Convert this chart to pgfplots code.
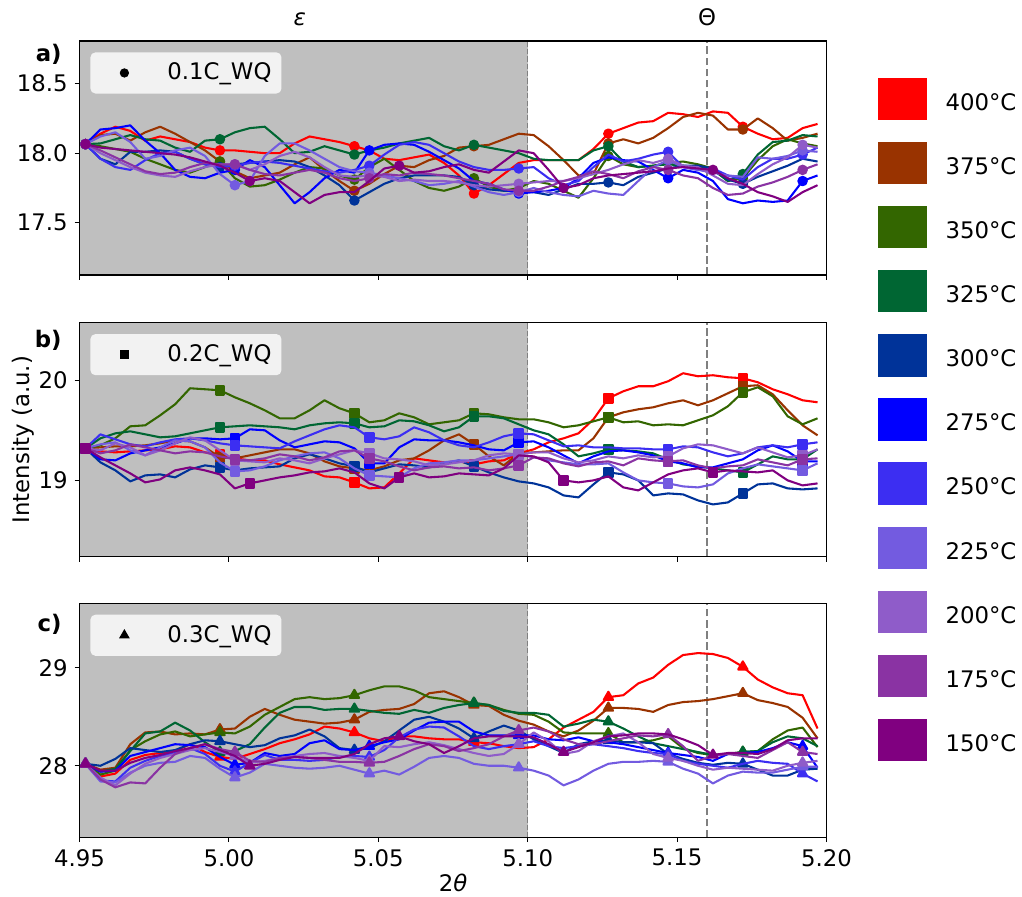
\documentclass[border=0pt]{standalone}
\usepackage{pgfplots}
\usepackage{pgfplotstable}
\pgfplotsset{compat=1.18}
\usepackage{fontspec}
\setmainfont{DejaVu Sans}
\newcommand\fs{\fontsize{11.4pt}{13.7pt}\selectfont}
\definecolor{c400}{HTML}{FF0000}
\definecolor{c375}{HTML}{993300}
\definecolor{c350}{HTML}{336600}
\definecolor{c325}{HTML}{006633}
\definecolor{c300}{HTML}{003399}
\definecolor{c275}{HTML}{0000FF}
\definecolor{c250}{HTML}{3C2EF2}
\definecolor{c225}{HTML}{735BE0}
\definecolor{c200}{HTML}{8F5CC9}
\definecolor{c175}{HTML}{8A33A3}
\definecolor{c150}{HTML}{800080}
\definecolor{bandgray}{HTML}{BFBFBF}
\definecolor{legbg}{HTML}{F2F2F2}

\pgfplotstableread{
x r br ol dg db b v250 v225 v200 v175 v150
4.952 18.065 18.065 18.065 18.065 18.065 18.065 18.065 18.065 18.065 18.065 18.065
4.957 18.14 18.13 18.05 18.07 17.96 18.17 17.96 18.12 18.00 18.02 18.04
4.962 18.19 18.14 18.03 18.10 17.92 18.18 17.90 18.15 17.95 17.97 18.03
4.967 18.16 18.09 18.01 18.13 18.01 18.20 17.88 18.08 17.90 17.92 18.02
4.972 18.09 18.15 17.96 18.10 18.01 18.09 17.95 17.96 17.86 17.87 18.01
4.977 18.12 18.19 17.92 18.09 18.02 18.00 18.00 17.98 17.84 17.85 18.00
4.982 18.10 18.14 17.88 18.04 18.01 17.88 18.01 18.02 17.83 17.86 17.99
4.987 18.08 18.08 17.86 18.01 17.96 17.83 17.96 18.04 17.87 17.90 17.97
4.992 18.04 18.02 17.90 18.09 17.92 17.82 17.92 17.98 17.90 17.93 17.94
4.997 18.02 17.94 17.94 18.10 17.90 17.86 17.90 17.85 17.92 17.92 17.91
5.002 18.02 17.87 17.82 18.15 17.92 17.88 17.91 17.77 17.92 17.92 17.86
5.007 18.01 17.82 17.76 18.18 17.93 17.95 17.93 17.80 17.88 17.88 17.80
5.012 18.00 17.84 17.77 18.19 17.94 17.90 17.94 17.98 17.92 17.85 17.82
5.017 18.00 17.86 17.81 18.10 17.95 17.77 17.93 18.07 17.98 17.84 17.80
5.022 18.07 17.92 17.86 18.00 17.94 17.64 17.91 18.07 18.01 17.86 17.72
5.027 18.12 17.97 17.90 18.01 17.90 17.72 17.89 18.02 17.97 17.88 17.64
5.032 18.10 17.88 17.89 18.05 17.84 17.82 17.87 17.96 17.90 17.86 17.70
5.037 18.08 17.80 17.84 18.02 17.77 17.88 17.86 17.90 17.84 17.82 17.72
5.042 18.05 17.73 17.81 17.99 17.66 17.86 17.88 17.87 17.83 17.80 17.72
5.047 18.02 17.78 17.90 18.02 17.72 18.02 17.91 17.86 17.84 17.82 17.80
5.052 17.96 17.85 17.96 18.04 17.78 18.06 17.99 17.84 17.83 17.85 17.89
5.057 17.95 17.91 17.88 18.07 17.82 18.07 18.06 17.82 17.80 17.84 17.91
5.062 17.97 17.90 17.80 18.09 17.84 18.06 18.08 17.80 17.81 17.86 17.86
5.067 17.99 17.95 17.75 18.11 17.84 18.01 18.06 17.77 17.80 17.85 17.87
5.072 17.93 17.98 17.73 18.05 17.84 17.95 18.00 17.78 17.80 17.84 17.90
5.077 17.84 18.04 17.76 18.02 17.83 17.89 17.94 17.80 17.79 17.82 17.92
5.082 17.71 18.05 17.82 18.06 17.77 17.80 17.90 17.76 17.77 17.80 17.88
5.087 17.77 18.06 17.76 18.04 17.74 17.78 17.88 17.72 17.76 17.78 17.86
5.092 17.85 18.10 17.73 18.02 17.73 17.74 17.88 17.70 17.77 17.74 17.94
5.097 17.93 18.14 17.75 18.00 17.73 17.71 17.89 17.72 17.78 17.73 18.02
5.102 17.95 18.13 17.80 17.96 17.72 17.72 17.90 17.75 17.79 17.73 18.00
5.107 17.95 18.05 17.78 17.95 17.70 17.73 17.82 17.72 17.80 17.76 17.88
5.112 17.95 17.95 17.73 17.95 17.74 17.75 17.77 17.70 17.80 17.80 17.75
5.117 17.95 17.84 17.68 17.95 17.78 17.82 17.80 17.69 17.82 17.83 17.77
5.122 18.03 17.85 17.82 18.02 17.78 17.93 17.90 17.73 17.85 17.87 17.82
5.127 18.14 18.07 17.98 18.05 17.79 17.97 17.99 17.71 17.88 17.85 17.84
5.132 18.18 18.10 17.92 17.94 17.77 17.95 17.94 17.70 17.92 17.82 17.85
5.137 18.22 18.07 17.90 17.90 17.83 17.94 17.96 17.80 17.95 17.87 17.86
5.142 18.23 18.11 17.91 17.91 17.86 17.88 17.99 17.90 17.93 17.90 17.87
5.147 18.29 18.18 17.93 17.92 17.89 17.82 18.01 17.95 17.96 17.88 17.89
5.152 18.28 18.26 17.94 17.91 17.91 17.88 17.90 17.90 17.91 17.84 17.90
5.157 18.26 18.29 17.92 17.90 17.91 17.86 17.88 17.88 17.90 17.82 17.89
5.162 18.30 18.27 17.89 17.88 17.89 17.80 17.89 17.86 17.84 17.75 17.88
5.167 18.29 18.17 17.80 17.80 17.81 17.67 17.84 17.84 17.78 17.70 17.82
5.172 18.19 18.17 17.82 17.85 17.78 17.64 17.81 17.83 17.77 17.71 17.78
5.177 18.14 18.25 17.95 17.99 17.83 17.66 17.90 17.97 17.85 17.76 17.72
5.182 18.10 18.18 18.05 18.08 17.87 17.65 17.96 17.96 17.92 17.79 17.69
5.187 18.11 18.09 18.10 18.09 17.91 17.66 17.96 17.98 17.97 17.83 17.65
5.192 18.18 18.11 18.07 18.13 17.96 17.80 17.99 18.02 18.06 17.88 17.72
5.197 18.21 18.14 18.05 18.12 17.94 17.84 18.04 18.01 18.04 17.92 17.77
}\tA

\pgfplotstableread{
x r br ol dg db b v250 v225 v200 v175 v150
4.952 19.32 19.32 19.32 19.32 19.32 19.32 19.32 19.32 19.32 19.32 19.32
4.957 19.29 19.33 19.35 19.42 19.18 19.21 19.46 19.36 19.30 19.27 19.23
4.962 19.28 19.34 19.42 19.47 19.10 19.20 19.41 19.38 19.37 19.30 19.15
4.967 19.29 19.34 19.54 19.49 18.99 19.27 19.36 19.30 19.33 19.36 19.07
4.972 19.30 19.35 19.55 19.46 19.05 19.30 19.34 19.25 19.25 19.33 18.98
4.977 19.31 19.37 19.65 19.43 19.06 19.33 19.38 19.33 19.30 19.30 19.01
4.982 19.34 19.40 19.76 19.44 19.03 19.37 19.41 19.40 19.37 19.27 19.10
4.987 19.33 19.39 19.92 19.47 19.11 19.42 19.42 19.39 19.43 19.29 19.13
4.992 19.28 19.33 19.91 19.50 19.15 19.42 19.40 19.33 19.40 19.28 19.10
4.997 19.26 19.23 19.90 19.53 19.13 19.41 19.37 19.18 19.30 19.24 19.06
5.002 19.22 19.22 19.83 19.54 19.10 19.42 19.35 19.09 19.20 19.21 18.92
5.007 19.20 19.25 19.77 19.55 19.12 19.51 19.34 19.10 19.19 19.20 18.97
5.012 19.20 19.28 19.70 19.54 19.13 19.50 19.33 19.14 19.18 19.22 19.00
5.017 19.16 19.31 19.62 19.53 19.14 19.40 19.32 19.20 19.22 19.26 19.03
5.022 19.13 19.31 19.62 19.51 19.22 19.33 19.39 19.24 19.20 19.24 19.05
5.027 19.10 19.27 19.70 19.55 19.26 19.36 19.45 19.27 19.17 19.20 19.08
5.032 19.04 19.19 19.80 19.57 19.22 19.39 19.51 19.28 19.22 19.23 19.09
5.037 19.03 19.14 19.72 19.58 19.17 19.38 19.55 19.22 19.26 19.29 19.12
5.042 18.98 19.12 19.67 19.57 19.14 19.32 19.53 19.12 19.30 19.30 19.08
5.047 18.92 19.10 19.58 19.53 19.08 19.17 19.43 19.05 19.27 19.22 18.97
5.052 18.93 19.14 19.60 19.54 19.12 19.17 19.41 19.04 19.22 19.19 18.92
5.057 19.07 19.20 19.67 19.60 19.16 19.33 19.44 19.03 19.21 19.14 19.03
5.062 19.22 19.22 19.63 19.59 19.15 19.41 19.53 19.12 19.19 19.10 19.07
5.067 19.20 19.30 19.56 19.55 19.13 19.40 19.48 19.17 19.15 19.13 19.03
5.072 19.18 19.40 19.58 19.49 19.17 19.40 19.40 19.18 19.16 19.14 19.04
5.077 19.19 19.46 19.60 19.53 19.20 19.38 19.35 19.20 19.18 19.12 19.07
5.082 19.16 19.36 19.67 19.64 19.14 19.35 19.33 19.20 19.20 19.13 19.06
5.087 19.19 19.24 19.66 19.64 19.08 19.31 19.38 19.22 19.25 19.10 19.05
5.092 19.20 19.15 19.63 19.62 19.03 19.30 19.44 19.24 19.27 19.12 19.12
5.097 19.27 19.27 19.61 19.56 18.99 19.38 19.47 19.26 19.26 19.15 19.25
5.102 19.31 19.28 19.61 19.50 18.97 19.39 19.46 19.23 19.28 19.23 19.24
5.107 19.38 19.29 19.58 19.46 18.93 19.33 19.40 19.20 19.28 19.22 19.18
5.112 19.42 19.30 19.53 19.36 18.85 19.25 19.34 19.18 19.22 19.17 19.00
5.117 19.47 19.30 19.55 19.24 18.83 19.17 19.35 19.16 19.18 19.14 18.98
5.122 19.61 19.42 19.59 19.27 18.96 19.24 19.33 19.16 19.20 19.18 19.00
5.127 19.82 19.63 19.63 19.31 19.08 19.29 19.33 19.17 19.24 19.19 19.04
5.132 19.89 19.68 19.58 19.30 19.06 19.30 19.32 19.08 19.22 19.15 18.93
5.137 19.94 19.71 19.59 19.29 19.00 19.28 19.32 19.00 19.25 19.22 18.90
5.142 19.94 19.73 19.55 19.27 18.85 19.25 19.31 18.98 19.23 19.20 18.98
5.147 19.99 19.77 19.56 19.21 18.87 19.19 19.31 18.97 19.24 19.19 19.06
5.152 20.07 19.80 19.55 19.16 18.86 19.17 19.34 18.94 19.32 19.20 19.10
5.157 20.04 19.75 19.60 19.14 18.80 19.13 19.33 18.93 19.36 19.15 19.12
5.162 20.05 19.80 19.65 19.12 18.76 19.13 19.28 18.96 19.35 19.12 19.08
5.167 20.03 19.87 19.74 19.10 18.78 19.17 19.24 19.07 19.31 19.14 19.10
5.172 20.02 19.94 19.88 19.08 18.87 19.21 19.27 19.12 19.27 19.15 19.09
5.177 19.98 19.95 19.93 19.16 18.96 19.30 19.33 19.16 19.33 19.21 19.08
5.182 19.91 19.86 19.84 19.24 18.97 19.35 19.35 19.14 19.28 19.18 19.10
5.187 19.86 19.70 19.64 19.21 18.92 19.29 19.33 19.12 19.23 19.15 19.00
5.192 19.80 19.55 19.56 19.21 18.91 19.19 19.36 19.10 19.25 19.21 18.95
5.197 19.78 19.45 19.62 19.31 18.92 19.19 19.38 19.17 19.31 19.22 18.97
}\tB

\pgfplotstableread{
x r br ol dg db b v250 v225 v200 v175 v150
4.952 28.02 28.02 28.02 28.02 28.02 28.02 28.02 28.02 28.02 28.02 28.02
4.957 27.89 27.96 27.91 27.94 28.00 27.94 27.85 27.84 27.88 27.86 27.95
4.962 27.92 27.98 27.95 27.97 28.07 27.95 27.84 27.83 27.80 27.78 27.95
4.967 28.06 28.22 28.16 28.15 28.18 28.10 27.98 27.93 27.92 27.83 28.03
4.972 28.11 28.34 28.25 28.33 28.16 28.14 28.05 28.00 28.02 27.82 28.08
4.977 28.13 28.35 28.32 28.35 28.14 28.18 28.10 28.03 28.08 27.98 28.11
4.982 28.15 28.32 28.35 28.44 28.16 28.22 28.13 28.04 28.12 28.12 28.15
4.987 28.22 28.33 28.30 28.36 28.22 28.21 28.18 28.10 28.16 28.18 28.18
4.992 28.14 28.32 28.32 28.24 28.26 28.19 28.12 28.08 28.18 28.22 28.22
4.997 28.09 28.37 28.34 28.14 28.25 28.09 28.00 27.97 28.14 28.17 28.16
5.002 28.07 28.38 28.33 28.15 28.22 28.01 27.94 27.88 28.10 28.14 28.10
5.007 28.12 28.50 28.40 28.22 28.19 28.03 28.03 27.93 28.03 28.05 28.00
5.012 28.17 28.58 28.52 28.39 28.21 28.13 28.11 28.02 28.05 28.04 28.02
5.017 28.23 28.52 28.60 28.54 28.28 28.10 28.06 28.00 28.08 28.08 28.06
5.022 28.27 28.47 28.68 28.60 28.31 28.12 28.06 27.98 28.10 28.09 28.09
5.027 28.32 28.45 28.70 28.60 28.37 28.23 28.05 27.97 28.12 28.08 28.08
5.032 28.40 28.43 28.68 28.57 28.30 28.26 28.06 27.98 28.13 28.06 28.08
5.037 28.38 28.44 28.69 28.58 28.18 28.17 28.09 28.00 28.10 28.04 28.08
5.042 28.34 28.47 28.72 28.58 28.16 28.16 28.10 27.96 28.08 28.04 28.12
5.047 28.28 28.55 28.77 28.56 28.18 28.20 28.09 27.92 28.05 28.03 28.22
5.052 28.25 28.57 28.81 28.54 28.25 28.24 28.16 27.95 28.20 28.04 28.28
5.057 28.30 28.58 28.81 28.53 28.36 28.27 28.29 27.91 28.19 28.10 28.30
5.062 28.30 28.63 28.77 28.57 28.47 28.36 28.37 27.99 28.22 28.17 28.25
5.067 28.28 28.74 28.70 28.54 28.50 28.44 28.40 28.08 28.24 28.22 28.22
5.072 28.27 28.76 28.68 28.59 28.45 28.45 28.39 28.10 28.21 28.20 28.13
5.077 28.27 28.70 28.66 28.62 28.38 28.45 28.30 28.08 28.17 28.15 28.20
5.082 28.24 28.62 28.64 28.64 28.28 28.35 28.20 28.02 28.13 28.18 28.28
5.087 28.23 28.61 28.62 28.62 28.35 28.31 28.17 28.00 28.10 28.22 28.30
5.092 28.20 28.52 28.57 28.56 28.41 28.31 28.20 28.00 28.12 28.30 28.30
5.097 28.18 28.46 28.53 28.54 28.36 28.31 28.22 27.98 28.22 28.36 28.30
5.102 28.19 28.42 28.52 28.54 28.27 28.31 28.25 27.95 28.34 28.39 28.29
5.107 28.27 28.35 28.45 28.52 28.20 28.27 28.20 27.90 28.25 28.35 28.22
5.112 28.39 28.30 28.34 28.40 28.13 28.26 28.18 27.80 28.12 28.27 28.14
5.117 28.47 28.36 28.33 28.43 28.22 28.29 28.20 27.86 28.15 28.22 28.19
5.122 28.55 28.46 28.33 28.47 28.25 28.25 28.22 27.95 28.25 28.22 28.24
5.127 28.70 28.59 28.33 28.45 28.26 28.24 28.20 28.02 28.30 28.25 28.30
5.132 28.72 28.59 28.24 28.38 28.24 28.22 28.18 28.04 28.33 28.28 28.31
5.137 28.84 28.58 28.24 28.30 28.24 28.19 28.15 28.04 28.24 28.31 28.33
5.142 28.90 28.55 28.26 28.23 28.23 28.16 28.13 28.05 28.12 28.30 28.33
5.147 29.03 28.62 28.30 28.20 28.12 28.13 28.12 28.04 28.08 28.32 28.32
5.152 29.13 28.65 28.18 28.17 28.07 28.11 28.05 27.97 28.05 28.20 28.27
5.157 29.15 28.66 28.13 28.14 28.03 28.09 28.02 27.92 28.00 28.05 28.21
5.162 29.14 28.68 28.11 28.11 28.01 28.05 28.00 27.82 27.96 28.10 28.11
5.167 29.10 28.71 28.12 28.12 28.03 28.12 27.98 27.90 27.98 28.12 28.13
5.172 29.01 28.74 28.14 28.14 28.02 28.13 28.02 27.94 27.97 28.10 28.13
5.177 28.88 28.67 28.15 28.15 27.96 28.14 28.05 27.93 27.96 28.08 28.12
5.182 28.80 28.64 28.27 28.24 27.90 28.18 28.03 27.93 27.95 28.16 28.17
5.187 28.74 28.60 28.36 28.30 27.90 28.24 28.02 27.96 28.00 28.24 28.26
5.192 28.72 28.49 28.39 28.28 27.96 28.20 27.92 27.99 28.03 28.14 28.28
5.197 28.38 28.28 28.19 28.20 27.97 27.98 27.84 27.99 28.05 28.12 28.28
}\tC

\pgfplotsset{
  ser/.style={line width=1.04pt, line join=round, forget plot, mark options={solid}},
  panel/.style={scale only axis, width=373.5pt, height=117pt, xmin=4.95, xmax=5.20,
    axis on top, clip mode=individual, axis line style={line width=0.56pt, black},
    every tick/.style={line width=0.56pt, black},
    tick align=outside, major tick length=2.43pt, tick pos=left,
    xtick={4.95,5.00,5.05,5.10,5.15,5.20}, scaled x ticks=false,
    /pgf/number format/assume math mode=true, legend cell align=left,
    legend style={at={(0,1)}, anchor=north west, xshift=5.25pt, yshift=-5.5pt,
      fill=legbg, draw=none, rounded corners=2.5pt, inner xsep=5pt, inner ysep=5.3pt,
      nodes={inner sep=0pt}, column sep=4.5pt}},
}

\newcommand\allseries[3]{%
\addplot[c400,ser,mark=#2,mark size=#3,mark indices={1,10,19,27,36,45}] table[x=x,y=r]{#1};
\addplot[c375,ser,mark=#2,mark size=#3,mark indices={1,10,19,27,36,45}] table[x=x,y=br]{#1};
\addplot[c350,ser,mark=#2,mark size=#3,mark indices={1,10,19,27,36,45}] table[x=x,y=ol]{#1};
\addplot[c325,ser,mark=#2,mark size=#3,mark indices={1,10,19,27,36,45}] table[x=x,y=dg]{#1};
\addplot[c300,ser,mark=#2,mark size=#3,mark indices={1,10,19,27,36,45}] table[x=x,y=db]{#1};
\addplot[c275,ser,mark=#2,mark size=#3,mark indices={1,11,20,30,40,49}] table[x=x,y=b]{#1};
\addplot[c250,ser,mark=#2,mark size=#3,mark indices={1,11,20,30,40,49}] table[x=x,y=v250]{#1};
\addplot[c225,ser,mark=#2,mark size=#3,mark indices={1,11,20,30,40,49}] table[x=x,y=v225]{#1};
\addplot[c200,ser,mark=#2,mark size=#3,mark indices={1,11,20,30,40,49}] table[x=x,y=v200]{#1};
\addplot[c175,ser,mark=#2,mark size=#3,mark indices={1,11,20,30,40,49}] table[x=x,y=v175]{#1};
\addplot[c150,ser,mark=#2,mark size=#3,mark indices={1,12,22,33,43}] table[x=x,y=v150]{#1};
}

\newcommand\decor[2]{%
\addplot[fill=bandgray, draw=none, forget plot] coordinates {(4.95,#1) (4.95,#2) (5.10,#2) (5.10,#1)};
\addplot[gray, line width=0.69pt, dash pattern=on 2.57pt off 1.11pt, forget plot] coordinates {(5.10,#1) (5.10,#2)};
\addplot[gray, line width=1.04pt, dash pattern=on 3.85pt off 1.67pt, forget plot] coordinates {(5.16,#1) (5.16,#2)};
}

\begin{document}
\begin{tikzpicture}[font=\fs]
\path[use as bounding box] (0pt,0pt) rectangle (511pt,448.5pt);

% panel a
\begin{axis}[panel, at={(39.75pt,311pt)}, anchor=south west,
  ymin=17.125, ymax=18.806, ytick={17.5,18,18.5},
  yticklabel style={/pgf/number format/.cd, fixed, fixed zerofill, precision=1},
  xticklabels={},
  legend image code/.code={\path[draw=none,fill=none] (0pt,-3pt) rectangle (29pt,3pt); \draw[#1] plot coordinates {(12pt,0pt)};}]
\addlegendimage{black, only marks, mark=*, mark size=2.1pt}
\addlegendentry{0.1C\_WQ}
\decor{17.125}{18.806}
\allseries{\tA}{*}{2.1pt}
\node[anchor=east, inner sep=0pt, font=\fs\bfseries] at (axis description cs:-0.0234,0.942) {a)};
\node[anchor=base, yshift=7.6pt] at (axis description cs:0.295,1) {\itshape ε};
\node[anchor=base, yshift=7.6pt] at (axis description cs:0.840,1) {Θ};
\end{axis}

% panel b
\begin{axis}[panel, at={(39.75pt,170.15pt)}, anchor=south west,
  ymin=18.238, ymax=20.575, ytick={19,20},
  xticklabels={},
  ylabel={Intensity (a.u.)}, ylabel style={at={(axis description cs:-0.0669,0.5)}, anchor=base},
  legend image code/.code={\path[draw=none,fill=none] (0pt,-3pt) rectangle (29pt,3pt); \draw[#1] plot coordinates {(12pt,0pt)};}]
\addlegendimage{black, only marks, mark=square*, mark size=2.1pt}
\addlegendentry{0.2C\_WQ}
\decor{18.238}{20.575}
\allseries{\tB}{square*}{2.1pt}
\node[anchor=east, inner sep=0pt, font=\fs\bfseries] at (axis description cs:-0.0234,0.9245) {b)};
\end{axis}

% panel c
\begin{axis}[panel, at={(39.75pt,29.85pt)}, anchor=south west,
  ymin=27.270, ymax=29.658, ytick={28,29},
  xticklabel style={/pgf/number format/.cd, fixed, fixed zerofill, precision=2},
  xlabel={2{\itshape θ}}, xlabel style={at={(axis description cs:0.5,0)}, anchor=base, yshift=-27.35pt},
  legend image code/.code={\path[draw=none,fill=none] (0pt,-3pt) rectangle (29pt,3pt); \draw[#1] plot coordinates {(12pt,0pt)};}]
\addlegendimage{black, only marks, mark=triangle*, mark size=2.7pt}
\addlegendentry{0.3C\_WQ}
\decor{27.270}{29.658}
\allseries{\tC}{triangle*}{2.7pt}
\node[anchor=east, inner sep=0pt, font=\fs\bfseries] at (axis description cs:-0.0234,0.91) {c)};
\end{axis}

% figure legend
\begin{axis}[at={(0pt,0pt)}, anchor=south west, scale only axis, width=511pt, height=448.5pt,
  hide axis, xmin=0, xmax=1, ymin=0, ymax=1, legend cell align=left,
  legend style={at={(axis description cs:0.8584,0.9138)}, anchor=north west, draw=none, fill=none,
    inner sep=0pt, row sep=11pt, column sep=9.15pt, nodes={inner sep=0pt}},
  legend image code/.code={\fill[#1] (0pt,-8.08pt) rectangle (24.35pt,12.58pt);}]
\addlegendimage{c400}\addlegendentry{400°C}
\addlegendimage{c375}\addlegendentry{375°C}
\addlegendimage{c350}\addlegendentry{350°C}
\addlegendimage{c325}\addlegendentry{325°C}
\addlegendimage{c300}\addlegendentry{300°C}
\addlegendimage{c275}\addlegendentry{275°C}
\addlegendimage{c250}\addlegendentry{250°C}
\addlegendimage{c225}\addlegendentry{225°C}
\addlegendimage{c200}\addlegendentry{200°C}
\addlegendimage{c175}\addlegendentry{175°C}
\addlegendimage{c150}\addlegendentry{150°C}
\end{axis}
\end{tikzpicture}
\end{document}
